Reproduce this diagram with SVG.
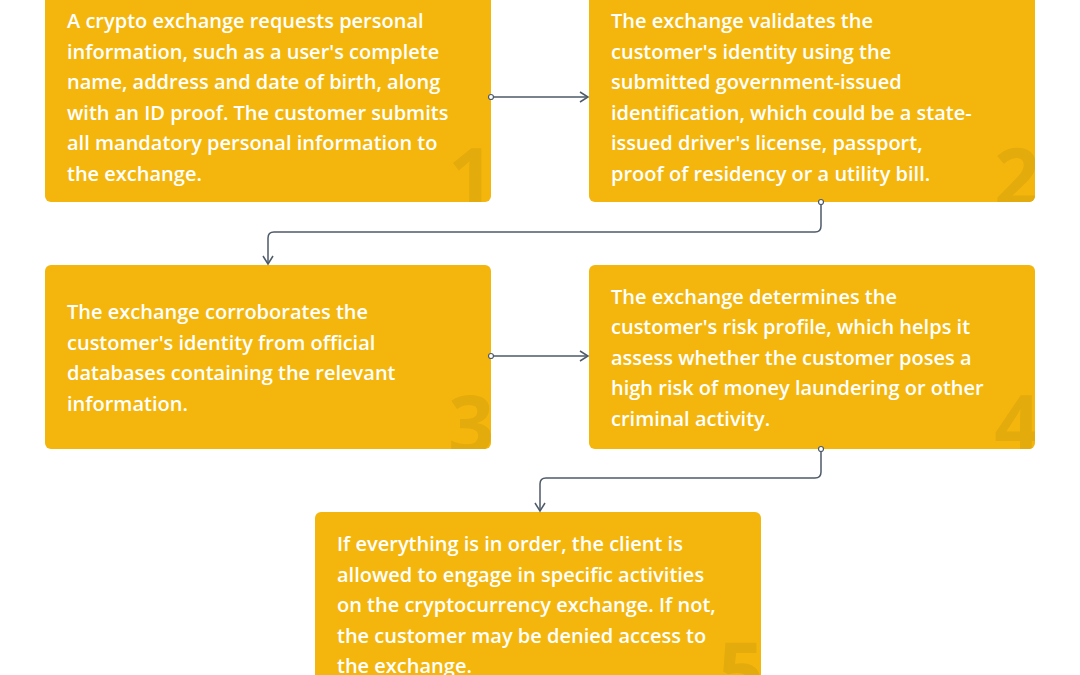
<svg xmlns="http://www.w3.org/2000/svg" width="1080" height="675" viewBox="0 0 1080 675">
<style>
.box{fill:#f4b60d}
.t{font-family:"Open Sans",sans-serif;font-size:20px;font-weight:600;fill:#fff}
.n{font-family:"Open Sans",sans-serif;font-size:80px;font-weight:bold;fill:#e4ab0c}
.c{fill:none;stroke:#4d5a68;stroke-width:1.5}
</style>
<defs>
<marker id="ar" markerWidth="12" markerHeight="12" refX="10" refY="6" orient="auto" markerUnits="userSpaceOnUse"><path d="M2,1 L10,6 L2,11" fill="none" stroke="#4d5a68" stroke-width="1.5"/></marker>
<marker id="dot" markerWidth="8" markerHeight="8" refX="4" refY="4" markerUnits="userSpaceOnUse"><circle cx="4" cy="4" r="2.5" fill="#fff" stroke="#4d5a68" stroke-width="1.2"/></marker>
<clipPath id="c1"><rect x="45" y="-10" width="446" height="212" rx="6"/></clipPath>
<clipPath id="c2"><rect x="589" y="-10" width="446" height="212" rx="6"/></clipPath>
<clipPath id="c3"><rect x="45" y="265" width="446" height="184" rx="6"/></clipPath>
<clipPath id="c4"><rect x="589" y="265" width="446" height="184" rx="6"/></clipPath>
<clipPath id="c5"><rect x="315" y="512" width="446" height="180" rx="6"/></clipPath>
</defs>
<rect width="1080" height="675" fill="#fff"/>
<g id="node1"><rect class="box" x="45" y="-10" width="446" height="212" rx="6"/><text class="n" x="494" y="206" text-anchor="end" clip-path="url(#c1)">1</text>
<text class="t" x="67" y="28">A crypto exchange requests personal</text><text class="t" x="67" y="59">information, such as a user's complete</text><text class="t" x="67" y="89">name, address and date of birth, along</text><text class="t" x="67" y="120">with an ID proof. The customer submits</text><text class="t" x="67" y="150">all mandatory personal information to</text><text class="t" x="67" y="181">the exchange.</text></g>
<g id="node2"><rect class="box" x="589" y="-10" width="446" height="212" rx="6"/><text class="n" x="1040" y="206" text-anchor="end" clip-path="url(#c2)">2</text>
<text class="t" x="611" y="28">The exchange validates the</text><text class="t" x="611" y="59">customer's identity using the</text><text class="t" x="611" y="89">submitted government-issued</text><text class="t" x="611" y="120">identification, which could be a state-</text><text class="t" x="611" y="150">issued driver's license, passport,</text><text class="t" x="611" y="181">proof of residency or a utility bill.</text></g>
<g id="node3"><rect class="box" x="45" y="265" width="446" height="184" rx="6"/><text class="n" x="494" y="453" text-anchor="end" clip-path="url(#c3)">3</text>
<text class="t" x="67" y="319">The exchange corroborates the</text><text class="t" x="67" y="350">customer's identity from official</text><text class="t" x="67" y="380">databases containing the relevant</text><text class="t" x="67" y="411">information.</text></g>
<g id="node4"><rect class="box" x="589" y="265" width="446" height="184" rx="6"/><text class="n" x="1040" y="453" text-anchor="end" clip-path="url(#c4)">4</text>
<text class="t" x="611" y="304">The exchange determines the</text><text class="t" x="611" y="334">customer's risk profile, which helps it</text><text class="t" x="611" y="365">assess whether the customer poses a</text><text class="t" x="611" y="395">high risk of money laundering or other</text><text class="t" x="611" y="426">criminal activity.</text></g>
<g id="node5"><rect class="box" x="315" y="512" width="446" height="180" rx="6"/><text class="n" x="764" y="700" text-anchor="end" clip-path="url(#c5)">5</text>
<text class="t" x="337" y="551">If everything is in order, the client is</text><text class="t" x="337" y="582">allowed to engage in specific activities</text><text class="t" x="337" y="612">on the cryptocurrency exchange. If not,</text><text class="t" x="337" y="643">the customer may be denied access to</text><text class="t" x="337" y="673">the exchange.</text></g>
<g id="connectors">
<path class="c" d="M491,97 H588" marker-start="url(#dot)" marker-end="url(#ar)"/>
<path class="c" d="M821,202 V226 Q821,232 815,232 H274 Q268,232 268,238 V264" marker-start="url(#dot)" marker-end="url(#ar)"/>
<path class="c" d="M491,356 H588" marker-start="url(#dot)" marker-end="url(#ar)"/>
<path class="c" d="M821,449 V472 Q821,478 815,478 H546 Q540,478 540,484 V511" marker-start="url(#dot)" marker-end="url(#ar)"/>
</g>
</svg>
